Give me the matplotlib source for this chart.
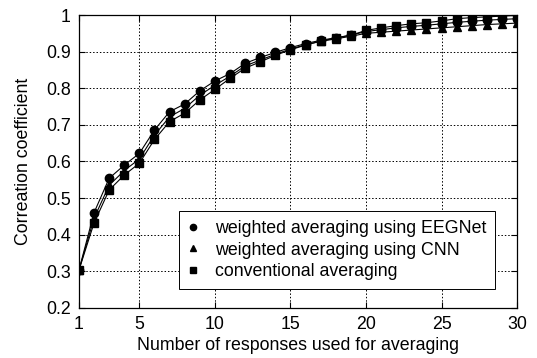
import matplotlib
matplotlib.use('Agg')
import matplotlib.pyplot as plt
import numpy as np

plt.rc('font', family='Liberation Sans', size=12.8)

# 平均化回数
n_resp = np.arange(1, 31)

eegnet = [0.303, 0.460, 0.554, 0.590, 0.622, 0.686, 0.736, 0.757, 0.793, 0.820,
          0.840, 0.868, 0.884, 0.898, 0.911, 0.922, 0.931, 0.938, 0.945, 0.955,
          0.960, 0.965, 0.969, 0.972, 0.976, 0.980, 0.983, 0.986, 0.988, 0.990]
cnn = [0.303, 0.445, 0.535, 0.575, 0.607, 0.672, 0.722, 0.745, 0.781, 0.808,
       0.833, 0.861, 0.877, 0.893, 0.907, 0.919, 0.928, 0.935, 0.942, 0.950,
       0.953, 0.956, 0.959, 0.962, 0.965, 0.968, 0.971, 0.974, 0.976, 0.978]
conventional = [0.303, 0.432, 0.522, 0.563, 0.595, 0.660, 0.709, 0.732, 0.768, 0.797,
                0.827, 0.855, 0.872, 0.890, 0.905, 0.918, 0.929, 0.937, 0.945, 0.958,
                0.965, 0.971, 0.976, 0.979, 0.984, 0.990, 0.993, 0.995, 0.997, 0.999]

labels = ['weighted averaging using EEGNet',
          'weighted averaging using CNN',
          'conventional averaging']

fig = plt.figure(figsize=(5.37, 3.58), dpi=100)
ax = fig.add_axes([0.147, 0.140, 0.816, 0.818])

ax.plot(n_resp, eegnet, '-o', color='black', lw=0.8, ms=6, label=labels[0])
ax.plot(n_resp, cnn, '-^', color='black', lw=0.8, ms=6, label=labels[1])
ax.plot(n_resp, conventional, '-s', color='black', lw=0.8, ms=6, label=labels[2])

ax.set_xlim(1, 30)
ax.set_ylim(0.2, 1)
ax.set_xticks([1, 5, 10, 15, 20, 25, 30])
ax.set_yticks([0.2, 0.3, 0.4, 0.5, 0.6, 0.7, 0.8, 0.9, 1.0])
ax.set_yticklabels(['0.2', '0.3', '0.4', '0.5', '0.6', '0.7', '0.8', '0.9', '1'])
ax.grid(True, color='black', linestyle=(0, (1.5, 2)), linewidth=0.7)
ax.tick_params(direction='in', length=4, top=True, right=True, pad=6)
for s in ax.spines.values():
    s.set_linewidth(0.9)

ax.set_xlabel('Number of responses used for averaging', labelpad=3)
ax.set_ylabel('Correation coefficient', labelpad=10)

leg = ax.legend(loc='lower right', bbox_to_anchor=(0.950, 0.065), borderaxespad=0,
                fancybox=False, framealpha=1, edgecolor='black', handlelength=0.6,
                handletextpad=0.95, borderpad=0.5, labelspacing=0.25, markerscale=0.75)
leg.get_frame().set_linewidth(0.7)
# 범례는 마커만
for h in leg.legend_handles:
    h.set_linestyle('None')

fig.savefig('out.png', dpi=100)
